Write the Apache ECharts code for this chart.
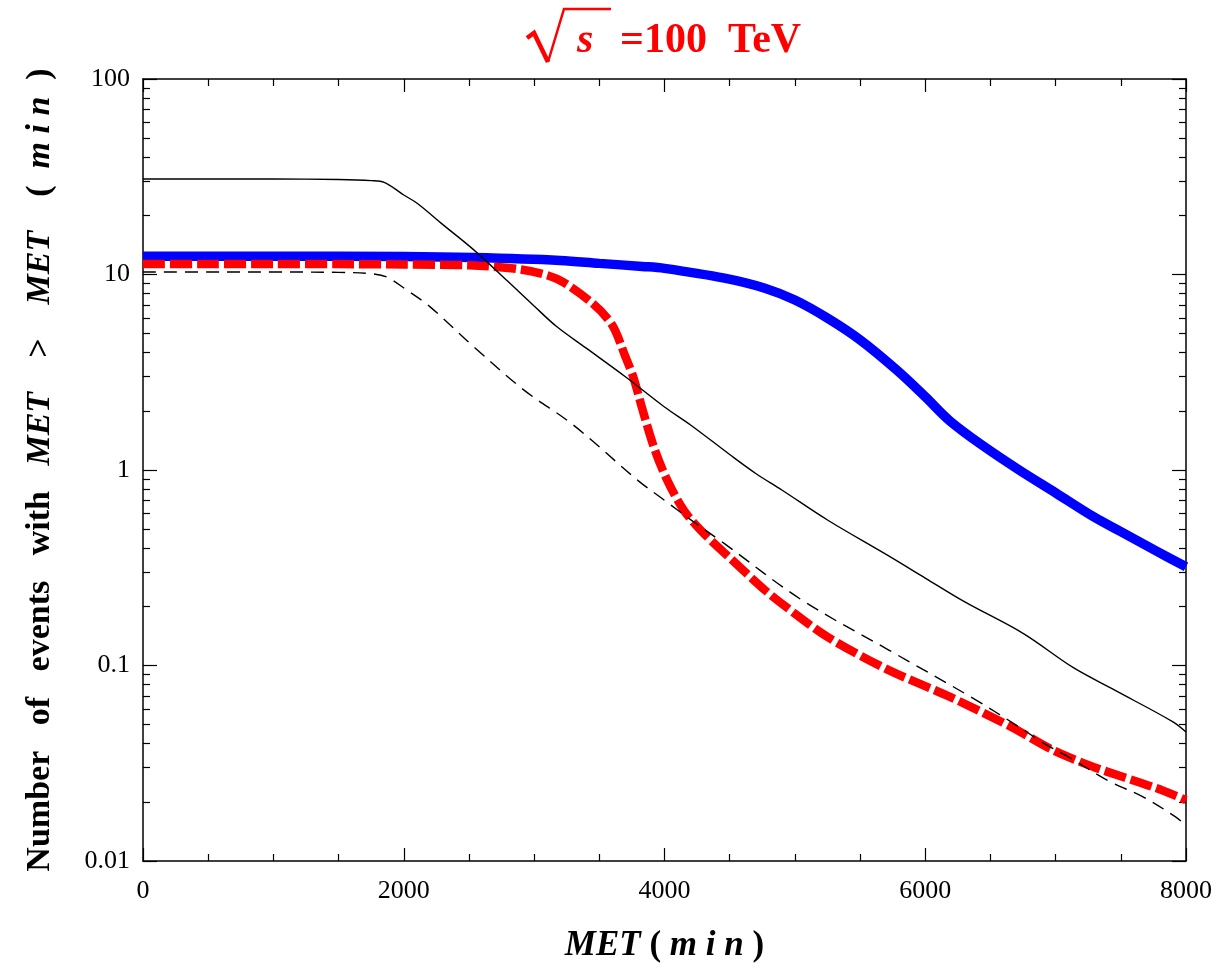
<!DOCTYPE html>
<html>
<head>
<meta charset="utf-8">
<title>Number of events with MET above threshold</title>
<script src="https://cdn.jsdelivr.net/npm/echarts@6/dist/echarts.min.js"></script>
<style>
  html, body { margin: 0; padding: 0; background: #fff; }
  #chart { width: 1219px; height: 970px; }
</style>
</head>
<body>
<div id="chart"></div>
<script>
// MET threshold (GeV) and cumulative event counts for each curve
const blueMet   = [0, 1000, 2000, 2535, 3200, 3500, 3830, 4000, 4460, 4770, 5000, 5250, 5500, 5780, 6000, 6190, 6450, 6720, 7000, 7290, 7500, 7760, 8000];
const blueCount = [12.4, 12.4, 12.35, 12.2, 11.8, 11.4, 11.0, 10.75, 9.58, 8.51, 7.4, 5.98, 4.63, 3.25, 2.37, 1.78, 1.32, 1.00, 0.764, 0.577, 0.484, 0.389, 0.32];

const redMet   = [0, 500, 1000, 1500, 2000, 2500, 2900, 3175, 3450, 3600, 3700, 3760, 3830, 3920, 4020, 4150, 4300, 4520, 4770, 4930, 5250, 5720, 6190, 6660, 6980, 7290, 7770, 8000];
const redCount = [11.3, 11.3, 11.3, 11.3, 11.25, 11.15, 10.6, 9.5, 7.1, 5.5, 3.8, 3.0, 2.05, 1.3, 0.89, 0.62, 0.475, 0.346, 0.243, 0.200, 0.140, 0.0947, 0.0691, 0.0485, 0.0369, 0.0303, 0.0236, 0.0205];

const solidMet   = [0, 500, 1000, 1500, 1750, 1850, 2000, 2100, 2300, 2535, 2800, 3000, 3175, 3400, 3700, 4000, 4200, 4500, 4700, 4900, 5250, 5700, 6000, 6300, 6750, 7130, 7450, 7900, 8000];
const solidCount = [30.8, 30.8, 30.8, 30.6, 30.2, 29.6, 25.5, 23.2, 18.0, 13.4, 9.2, 6.9, 5.4, 4.2, 3.0, 2.1, 1.7, 1.2, 0.96, 0.79, 0.555, 0.37, 0.28, 0.212, 0.146, 0.098, 0.075, 0.0515, 0.0457];

const dashMet   = [0, 500, 1000, 1500, 1750, 1870, 2020, 2200, 2535, 2920, 3300, 3800, 4000, 4200, 4460, 5050, 5720, 6350, 6720, 6910, 7100, 7420, 7670, 7920, 8000];
const dashCount = [10.3, 10.3, 10.3, 10.25, 10.1, 9.7, 8.35, 6.85, 4.28, 2.57, 1.70, 0.88, 0.70, 0.557, 0.42, 0.217, 0.120, 0.069, 0.0485, 0.040, 0.034, 0.0254, 0.0213, 0.0168, 0.0152];

// Axis ticks and labels
const xTickValues = [0, 2000, 4000, 6000, 8000];
const xTickLabels = ['0', '2000', '4000', '6000', '8000'];
const yTickValues = [0.01, 0.1, 1, 10, 100];
const yTickLabels = ['0.01', '0.1', '1', '10', '100'];
const yMinorTicks = [];
[0.01, 0.1, 1, 10].forEach(d => { for (let k = 2; k <= 9; k++) yMinorTicks.push(+(d * k).toPrecision(3)); });

const pairs = (xs, ys) => xs.map((x, i) => [x, ys[i]]);
const FONT = '"Liberation Serif", "Times New Roman", serif';
const RED = '#ff0000';

function yLabel(v) {
  const i = yTickValues.findIndex(t => Math.abs(Math.log10(t) - Math.log10(v)) < 1e-6);
  return i >= 0 ? yTickLabels[i] : '';
}
function xLabel(v) {
  const i = xTickValues.indexOf(v);
  return i >= 0 ? xTickLabels[i] : '';
}

const axisLine = { show: true, lineStyle: { color: '#000', width: 1.5 } };

function xAxisDef(position, withLabels) {
  return {
    type: 'value', position: position, min: 0, max: 8000, interval: 2000,
    axisLine: axisLine,
    axisTick: { show: true, inside: true, length: 13, lineStyle: { color: '#000', width: 1.2 } },
    minorTick: { show: true, splitNumber: 4, length: 7, lineStyle: { color: '#000', width: 1.2 } },
    splitLine: { show: false }, minorSplitLine: { show: false },
    axisLabel: withLabels ? { show: true, margin: 17, color: '#000', fontFamily: FONT, fontSize: 26, formatter: xLabel } : { show: false }
  };
}

function yAxisDef(position, minor, withLabels) {
  return {
    type: 'log', logBase: 10, position: position, min: 0.01, max: 100,
    axisLine: minor ? { show: false } : axisLine,
    axisTick: minor
      ? { show: true, inside: true, length: 7, customValues: yMinorTicks, lineStyle: { color: '#000', width: 1.2 } }
      : { show: true, inside: true, length: 14, customValues: yTickValues, lineStyle: { color: '#000', width: 1.2 } },
    splitLine: { show: false },
    axisLabel: withLabels
      ? { show: true, margin: 13, color: '#000', fontFamily: FONT, fontSize: 26, customValues: yTickValues, formatter: yLabel }
      : { show: false }
  };
}

const chart = echarts.init(document.getElementById('chart'), null, { renderer: 'canvas' });

const yMain = yAxisDef('left', false, true);
yMain.name = 'Number   of   events   with   {i|MET}    >    {i|MET}    (  {i|m i n}  )';
yMain.nameLocation = 'middle';
yMain.nameGap = 86;
yMain.nameTextStyle = {
  fontFamily: FONT, fontSize: 34, fontWeight: 'bold', color: '#000',
  rich: { i: { fontFamily: FONT, fontSize: 34, fontWeight: 'bold', fontStyle: 'italic', color: '#000' } }
};

const xMain = xAxisDef('bottom', true);
xMain.name = '{i|MET} ( {i|m i n} )';
xMain.nameLocation = 'middle';
xMain.nameGap = 67;
xMain.nameTextStyle = {
  fontFamily: FONT, fontSize: 35, fontWeight: 'bold', color: '#000',
  rich: { i: { fontFamily: FONT, fontSize: 35, fontWeight: 'bold', fontStyle: 'italic', color: '#000' } }
};

const option = {
  backgroundColor: '#ffffff',
  animation: false,
  grid: { left: 143, right: 33, top: 79, bottom: 109, containLabel: false },
  xAxis: [xMain, xAxisDef('top', false)],
  yAxis: [yMain, yAxisDef('left', true, false), yAxisDef('right', false, false), yAxisDef('right', true, false)],
  graphic: [
    // radical sign over s
    { type: 'polyline', silent: true, shape: { points: [[527, 38], [534, 33], [548, 62]] },
      style: { stroke: RED, lineWidth: 4.5, fill: null } },
    { type: 'polyline', silent: true, shape: { points: [[548, 62], [564, 9], [611, 9]] },
      style: { stroke: RED, lineWidth: 2.5, fill: null } },
    { type: 'text', silent: true, style: { text: 's', x: 577, y: 41, textVerticalAlign: 'middle',
      font: 'italic bold 42px ' + FONT, fill: RED } },
    { type: 'text', silent: true, style: { text: '=100', x: 620, y: 41, textVerticalAlign: 'middle',
      font: 'bold 42px ' + FONT, fill: RED } },
    { type: 'text', silent: true, style: { text: 'TeV', x: 728, y: 41, textVerticalAlign: 'middle',
      font: 'bold 42px ' + FONT, fill: RED } }
  ],
  series: [
    { name: 'blue', type: 'line', data: pairs(blueMet, blueCount), showSymbol: false,
      smooth: 0.35, lineStyle: { color: '#0000ff', width: 9.5 }, z: 2 },
    { name: 'red', type: 'line', data: pairs(redMet, redCount), showSymbol: false,
      smooth: 0.3, lineStyle: { color: RED, width: 8.5, type: [22, 5], cap: 'butt' }, z: 3 },
    { name: 'solid', type: 'line', data: pairs(solidMet, solidCount), showSymbol: false,
      smooth: 0.35, lineStyle: { color: '#000', width: 1.4 }, z: 4 },
    { name: 'dashed', type: 'line', data: pairs(dashMet, dashCount), showSymbol: false,
      smooth: 0.35, lineStyle: { color: '#000', width: 1.4, type: [13, 8] }, z: 4 }
  ]
};

chart.setOption(option);
</script>
</body>
</html>
